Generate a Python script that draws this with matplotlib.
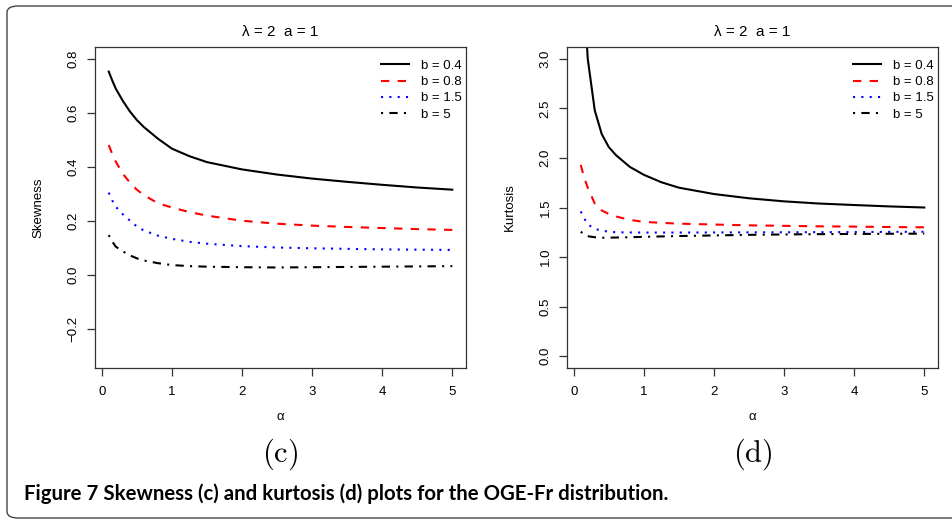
import matplotlib
matplotlib.use("Agg")
import matplotlib.pyplot as plt
from matplotlib.patches import FancyBboxPatch

plt.rcParams['font.family'] = ['Liberation Sans', 'DejaVu Sans']
plt.rcParams['mathtext.fontset'] = 'cm'

# values
alpha = [0.1, 0.15, 0.2, 0.3, 0.4, 0.5, 0.6, 0.8, 1.0, 1.25, 1.5, 2.0, 2.5, 3.0, 3.5, 4.0, 4.5, 5.0]

skew_b04 = [0.753, 0.72, 0.69, 0.645, 0.606, 0.574, 0.548, 0.505, 0.468, 0.440, 0.418, 0.391, 0.372, 0.357, 0.345, 0.334, 0.324, 0.316]
skew_b08 = [0.481, 0.448, 0.42, 0.375, 0.343, 0.316, 0.296, 0.266, 0.250, 0.233, 0.220, 0.201, 0.190, 0.183, 0.178, 0.174, 0.170, 0.167]
skew_b15 = [0.305, 0.276, 0.253, 0.225, 0.202, 0.180, 0.165, 0.146, 0.134, 0.123, 0.116, 0.107, 0.102, 0.099, 0.097, 0.095, 0.094, 0.093]
skew_b5 = [0.148, 0.124, 0.105, 0.088, 0.073, 0.062, 0.054, 0.044, 0.037, 0.033, 0.031, 0.029, 0.028, 0.029, 0.030, 0.031, 0.032, 0.033]

kurt_b04 = [4.6, 3.6, 3.0, 2.48, 2.24, 2.11, 2.03, 1.91, 1.83, 1.755, 1.70, 1.636, 1.593, 1.562, 1.54, 1.525, 1.511, 1.50]
kurt_b08 = [1.93, 1.80, 1.70, 1.54, 1.47, 1.435, 1.41, 1.375, 1.355, 1.345, 1.337, 1.328, 1.32, 1.315, 1.31, 1.307, 1.303, 1.30]
kurt_b15 = [1.46, 1.39, 1.33, 1.285, 1.265, 1.257, 1.25, 1.248, 1.247, 1.247, 1.247, 1.248, 1.249, 1.25, 1.251, 1.252, 1.254, 1.255]
kurt_b5 = [1.255, 1.23, 1.21, 1.20, 1.195, 1.195, 1.197, 1.20, 1.204, 1.208, 1.212, 1.218, 1.224, 1.228, 1.231, 1.233, 1.235, 1.236]

labels = ['b = 0.4', 'b = 0.8', 'b = 1.5', 'b = 5']
colors = ['black', 'red', 'blue', 'black']
styles = ['-', (0, (4, 4)), (0, (1, 3)), (0, (1, 3, 4, 3))]

fig = plt.figure(figsize=(9.52, 5.21), dpi=100)

# rounded frame around the figure
frame = FancyBboxPatch((7 / 952, 3 / 521), 1.1, 512 / 521,
                       boxstyle="round,pad=0,rounding_size=0.012",
                       transform=fig.transFigure, fill=False,
                       edgecolor='#444444', lw=1.0, clip_on=False)
fig.patches.append(frame)

fs = 9.5
edge = '#333333'


def panel(rect, series, ylim, yticks, ylabel, tag):
    ax = fig.add_axes(rect)
    for vals, lab, c, ls in zip(series, labels, colors, styles):
        ax.plot(alpha, vals, color=c, linestyle=ls, lw=1.5, label=lab)
    ax.set_xlim(-0.096, 5.196)
    ax.set_ylim(*ylim)
    ax.set_xticks([0, 1, 2, 3, 4, 5])
    ax.set_yticks(yticks)
    ax.set_yticklabels([f'{t:.1f}'.replace('-', '\u2212') for t in yticks],
                       rotation=90, va='center')
    ax.tick_params(direction='out', length=6, width=0.9, color=edge,
                   labelsize=fs, pad=5)
    ax.tick_params(axis='x', pad=7)
    for s in ax.spines.values():
        s.set_color(edge)
        s.set_linewidth(0.9)
    ax.set_xlabel('\u03b1', fontsize=fs, labelpad=9)
    ax.set_ylabel(ylabel, fontsize=fs, labelpad=17)
    ax.set_title('\u03bb = 2  a = 1', fontsize=11, pad=8)
    ax.legend(loc='upper left', bbox_to_anchor=(0.771, 0.96), frameon=False,
              fontsize=fs, handlelength=2.1, handletextpad=0.9,
              labelspacing=0.3, borderpad=0, borderaxespad=0)
    cx = rect[0] + rect[2] / 2
    fig.text(cx, 1 - 454 / 521, r'$\mathrm{(' + tag + ')}$', fontsize=22,
             ha='center', va='center')
    return ax


panel([95 / 952, 153 / 521, 371 / 952, 321 / 521],
      [skew_b04, skew_b08, skew_b15, skew_b5],
      (-0.344, 0.844), [-0.2, 0.0, 0.2, 0.4, 0.6, 0.8], 'Skewness', 'c')
panel([567 / 952, 153 / 521, 371 / 952, 321 / 521],
      [kurt_b04, kurt_b08, kurt_b15, kurt_b5],
      (-0.12, 3.12), [0.0, 0.5, 1.0, 1.5, 2.0, 2.5, 3.0], 'Kurtosis', 'd')

fig.text(24 / 952, 1 - 500.5 / 521,
         'Figure 7 Skewness (c) and kurtosis (d) plots for the OGE-Fr distribution.',
         fontsize=14.7, fontweight='bold', family='Lato', ha='left', va='baseline')

fig.savefig('out.png', dpi=100)
